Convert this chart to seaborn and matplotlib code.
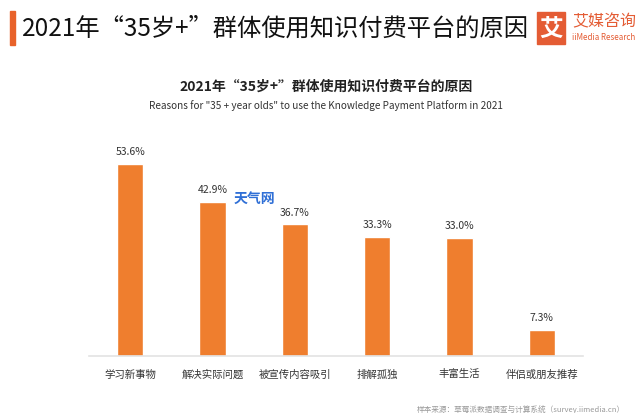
import matplotlib
matplotlib.use("Agg")
import matplotlib.pyplot as plt
import seaborn as sns
import pandas as pd
from matplotlib.patches import Rectangle

categories = ["学习新事物", "解决实际问题", "被宣传内容吸引", "排解孤独", "丰富生活", "伴侣或朋友推荐"]
values = [53.6, 42.9, 36.7, 33.3, 33.0, 7.3]
value_labels = ["53.6%", "42.9%", "36.7%", "33.3%", "33.0%", "7.3%"]

header_title = "2021年“35岁+”群体使用知识付费平台的原因"
chart_title = "2021年“35岁+”群体使用知识付费平台的原因"
chart_subtitle = 'Reasons for "35 + year olds" to use the Knowledge Payment Platform in 2021'
source_text = "样本来源：草莓派数据调查与计算系统（survey.iimedia.cn）"

sns.set_theme(style="white")
plt.rcParams['font.family'] = ['Noto Sans CJK SC', 'DejaVu Sans']

ORANGE = "#EF7E2E"
df = pd.DataFrame({"cat": categories, "val": values})

fig = plt.figure(figsize=(6.42, 4.14), dpi=100)
ax = fig.add_axes([89/642, 57/414, 494/642, 215/414])
sns.barplot(data=df, x="cat", y="val", color=ORANGE, width=0.32, saturation=1, ax=ax)
ax.set_ylim(0, 60)
ax.set_xlim(-0.5, len(categories) - 0.5)
for s in ["top", "right", "left"]:
    ax.spines[s].set_visible(False)
ax.spines["bottom"].set_color("#E3E3E3")
ax.spines["bottom"].set_linewidth(1.2)
ax.set_yticks([])
ax.set_xlabel("")
ax.set_ylabel("")
ax.tick_params(axis="x", length=0, pad=9, labelsize=7.5, labelcolor="#333333")
for i, (v, lab) in enumerate(zip(values, value_labels)):
    ax.text(i, v + 2.2, lab, ha="center", va="bottom", fontsize=7.5, color="#333333")

# Header
fig.patches.append(Rectangle((10/642, 1 - 46/414), 5/642, 34/414, transform=fig.transFigure,
                             color="#E8622A", zorder=5))
fig.text(22/642, 1 - 29/414, header_title, fontsize=17.5, color="#111111", va="center", ha="left")
# Logo
fig.patches.append(Rectangle((537/642, 1 - 45/414), 28/642, 32/414, transform=fig.transFigure,
                             color="#E45C34", zorder=5))
fig.text(551/642, 1 - 29/414, "艾", fontsize=17, color="white", ha="center", va="center",
         fontweight="bold", zorder=6)
fig.text(572/642, 1 - 22/414, "艾媒咨询", fontsize=11.5, color="#E45C34", ha="left", va="center")
fig.text(572/642, 1 - 37/414, "iiMedia Research", fontsize=5.8, color="#E45C34", ha="left", va="center")

# Chart titles
fig.text(0.5 + 5/642, 1 - 87/414, chart_title, fontsize=10, fontweight="bold", color="#222222",
         ha="center", va="center")
fig.text(0.5 + 5/642, 1 - 106/414, chart_subtitle, fontsize=7.2, color="#333333",
         ha="center", va="center")

# Watermark
fig.text(254/642, 1 - 199/414, "天气网", fontsize=10, color="#2F6FD6", ha="center", va="center",
         fontweight="bold")

# Source
fig.text(625/642, 1 - 410/414, source_text, fontsize=5.5, color="#999999", ha="right", va="center")

fig.savefig("out.png", dpi=100, facecolor="white")
